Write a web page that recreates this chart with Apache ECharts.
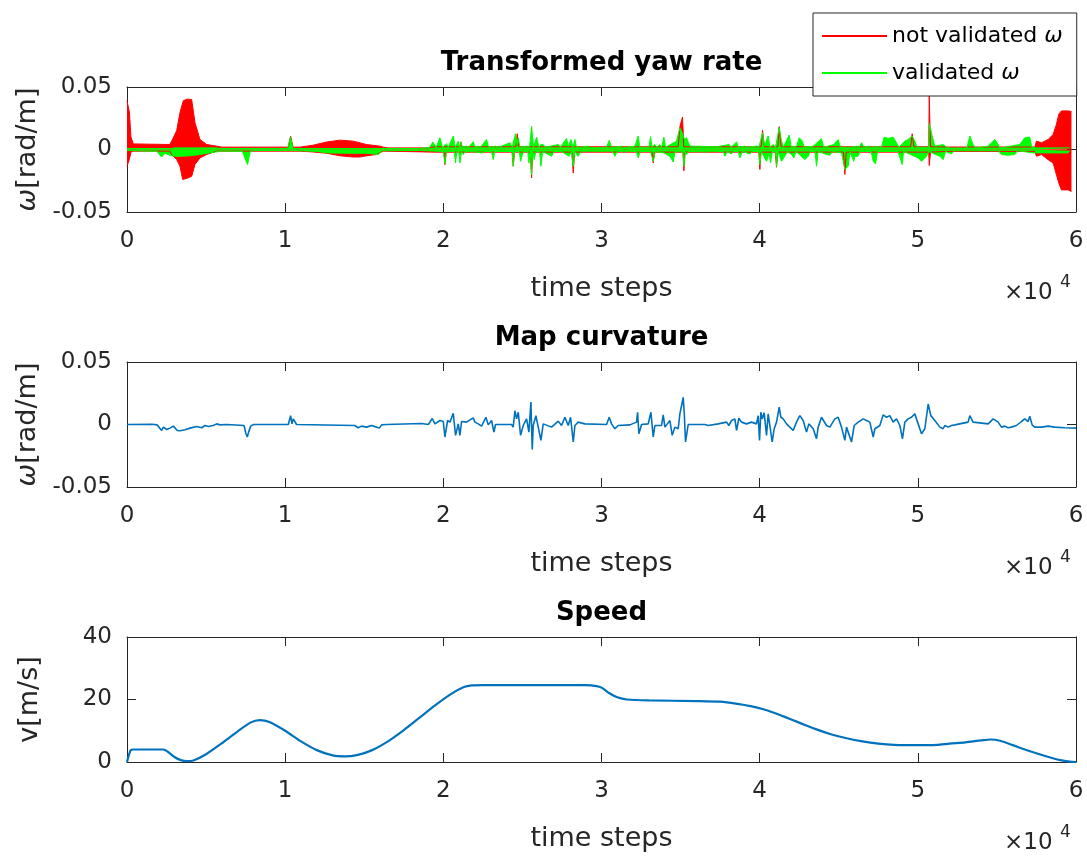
<!DOCTYPE html>
<html><head><meta charset="utf-8">
<script src="https://cdn.jsdelivr.net/npm/echarts@6/dist/echarts.min.js"></script>
<style>html,body{margin:0;padding:0;background:#fff}#c{width:1087px;height:857px}</style>
</head><body><div id="c"></div>
<script>
// ---------- DATA (time step, value) ----------
const xTickLabels = ['0','1','2','3','4','5','6'];
const titles = ['Transformed yaw rate', 'Map curvature', 'Speed'];
const legendNames = ['not validated ω', 'validated ω'];

// envelope of the "not validated" yaw rate (upper / lower)
const notValidatedUpper = [[0,0.039],[84,0.039],[150,0.03],[250,0.01],[400,0.0045],[2700,0.004],[2823,0.0067],[3139,0.015],[3350,0.0296],[3560,0.039],[3800,0.0403],[4087,0.04],[4298,0.0215],[4614,0.008],[5036,0.004],[5668,0.0027],[6000,0.0019],[10200,0.0019],[10343,0.0108],[10500,0.0019],[10930,0.0019],[11780,0.0035],[12620,0.006],[13460,0.0075],[14300,0.0067],[15150,0.004],[15990,0.0027],[16200,0.0019],[16500,0.0013],[19000,0.0013],[19500,0.0022],[21050,0.0022],[21112,0.0062],[21180,0.0022],[24590,0.0022],[24670,0.0126],[24750,0.0022],[34850,0.0022],[34955,0.0183],[35124,0.026],[35200,0.0022],[40100,0.0022],[40181,0.0153],[40300,0.0022],[41150,0.0022],[41235,0.0183],[41350,0.0022],[49550,0.0022],[49642,0.0126],[49750,0.0022],[50690,0.0022],[50720,0.043],[50760,0.043],[50800,0.0022],[52000,0.002],[57400,0.002],[57500,0.0067],[57816,0.0054],[58237,0.008],[58554,0.0121],[58764,0.0202],[58912,0.0282],[59080,0.0309],[59502,0.0309],[59713,0.0304]];
const notValidatedLower = [[0,-0.0134],[84,-0.0134],[150,-0.008],[250,-0.002],[400,-0.0013],[2700,-0.0013],[2823,-0.004],[3139,-0.008],[3350,-0.0134],[3518,-0.024],[3800,-0.023],[4087,-0.0215],[4298,-0.012],[4614,-0.0067],[5036,-0.004],[5668,-0.0013],[10930,-0.0013],[11780,-0.002],[12620,-0.003],[13460,-0.005],[14300,-0.006],[14720,-0.006],[15150,-0.005],[15780,-0.004],[16200,-0.0013],[19500,-0.0021],[20050,-0.0021],[20100,-0.0121],[20170,-0.0021],[24350,-0.0021],[24420,-0.0134],[24500,-0.0021],[25500,-0.0021],[25579,-0.0228],[25650,-0.0021],[28130,-0.0021],[28213,-0.0188],[28300,-0.0021],[33200,-0.0021],[33270,-0.0108],[33350,-0.0021],[35150,-0.0021],[35208,-0.017],[35280,-0.0021],[39950,-0.0021],[40013,-0.016],[40080,-0.0021],[40990,-0.0021],[41067,-0.0142],[41150,-0.0021],[45300,-0.0021],[45386,-0.02],[45470,-0.0021],[50690,-0.0021],[50720,-0.0129],[50760,-0.0129],[50800,-0.0021],[52000,-0.0015],[57400,-0.0015],[57500,-0.0054],[57816,-0.004],[58237,-0.0081],[58554,-0.0108],[58764,-0.0202],[58912,-0.0269],[59080,-0.0323],[59502,-0.0323],[59713,-0.0336]];

// envelope of the "validated" yaw rate (upper / lower)
const validatedUpper = [[0,0.0008],[2800,0.0008],[3000,0.0013],[5600,0.0013],[6000,0.0008],[10150,0.0008],[10343,0.0102],[10500,0.0008],[18500,0.0008],[19150,0.0018],[19330,0.006],[19550,0.0018],[19785,0.0094],[19950,0.0018],[20206,0.0046],[20311,0.0018],[20627,0.0108],[20750,0.0018],[20943,0.0067],[21010,0.0018],[21112,0.0059],[21200,0.0018],[21470,0.0027],[21600,0.0018],[21891,0.0062],[22000,0.0018],[22208,0.0027],[22350,0.0018],[22734,0.008],[22850,0.0025],[22945,0.004],[23050,0.0018],[23303,0.0027],[23500,0.0018],[24209,0.0054],[24350,0.0018],[24568,0.0126],[24650,0.004],[24736,0.0094],[24850,0.0018],[25263,0.0027],[25450,0.0018],[25579,0.0188],[25700,0.0018],[25895,0.0099],[26050,0.0018],[26169,0.004],[26316,0.004],[26450,0.0018],[27265,0.004],[27400,0.0018],[27791,0.0089],[27900,0.0025],[28065,0.0081],[28200,0.0018],[28318,0.0081],[28420,0.0018],[28529,0.0027],[28700,0.0018],[29161,0.0027],[29300,0.0015],[30300,0.0015],[30488,0.0073],[30650,0.0015],[31268,0.0027],[31400,0.0015],[32111,0.0027],[32322,0.0108],[32420,0.0018],[33000,0.0018],[33101,0.0102],[33200,0.0018],[33375,0.004],[33500,0.0018],[33691,0.004],[33800,0.0018],[33944,0.0099],[34050,0.0018],[34744,0.0067],[34955,0.0175],[35050,0.0148],[35124,0.0148],[35250,0.0081],[35377,0.0094],[35588,0.0027],[35700,0.0015],[37274,0.0022],[37400,0.0015],[38075,0.004],[38200,0.0018],[38539,0.006],[38650,0.0018],[39065,0.0027],[39200,0.0018],[39802,0.0027],[39950,0.0018],[40181,0.0134],[40300,0.003],[40540,0.0108],[40650,0.0018],[40856,0.004],[41000,0.0018],[41235,0.0175],[41383,0.0067],[41500,0.0018],[41867,0.0116],[42000,0.0018],[42331,0.0027],[42499,0.0094],[42710,0.0067],[42800,0.0018],[43384,0.0027],[43500,0.0018],[43911,0.0086],[44050,0.0018],[44691,0.004],[44965,0.008],[45100,0.0018],[45808,0.0018],[46124,0.0027],[46300,0.0018],[46438,0.0054],[46600,0.0018],[46860,0.0027],[47000,0.0018],[47492,0.0022],[47703,0.0018],[47871,0.0099],[48124,0.0089],[48440,0.0099],[48651,0.0054],[48800,0.0018],[49178,0.0067],[49389,0.0081],[49642,0.0108],[49810,0.0067],[49950,0.0018],[50680,0.0018],[50737,0.0207],[50906,0.0108],[51074,0.0027],[51200,0.0018],[51601,0.004],[51812,0.0019],[52000,0.0012],[53100,0.0012],[53287,0.0108],[53497,0.004],[53650,0.0012],[54445,0.0027],[54867,0.008],[55077,0.004],[55200,0.0012],[56447,0.004],[56763,0.0094],[57079,0.0099],[57200,0.002],[57500,0.0013],[59600,0.0013]];
const validatedLower = [[0,-0.0008],[1900,-0.0015],[2190,-0.006],[2400,-0.003],[2800,-0.005],[3200,-0.0055],[4000,-0.005],[4600,-0.004],[5600,-0.002],[6000,-0.0012],[7300,-0.0015],[7520,-0.009],[7627,-0.012],[7775,-0.002],[8000,-0.0008],[10250,-0.0008],[10343,-0.002],[10500,-0.0008],[12000,-0.0015],[12600,-0.0027],[14000,-0.003],[15150,-0.003],[15890,-0.004],[16100,-0.001],[18500,-0.0008],[20000,-0.0016],[20100,-0.0113],[20200,-0.0016],[20311,-0.003],[20450,-0.0016],[20700,-0.0016],[20774,-0.0108],[20850,-0.0016],[20980,-0.0016],[21048,-0.0108],[21150,-0.0016],[21259,-0.004],[21400,-0.0016],[21997,-0.0019],[22418,-0.0027],[22600,-0.0016],[23050,-0.0016],[23156,-0.0081],[23250,-0.0016],[24350,-0.0016],[24420,-0.0134],[24500,-0.0016],[24800,-0.0016],[24884,-0.0094],[25000,-0.004],[25100,-0.0016],[25340,-0.0016],[25410,-0.0108],[25500,-0.0016],[25579,-0.0202],[25650,-0.0016],[25747,-0.0081],[25850,-0.0016],[26090,-0.0016],[26169,-0.0134],[26280,-0.0016],[26843,-0.0054],[27000,-0.0016],[27475,-0.0016],[27939,-0.0054],[28100,-0.0016],[28213,-0.0134],[28318,-0.0016],[28529,-0.0054],[28700,-0.0014],[30700,-0.0014],[30847,-0.0054],[31000,-0.0014],[31479,-0.0019],[31700,-0.0014],[32200,-0.0016],[32322,-0.0067],[32450,-0.0016],[33101,-0.0016],[33270,-0.0095],[33400,-0.0016],[33944,-0.0027],[34323,-0.0054],[34534,-0.01],[34650,-0.0016],[35150,-0.002],[35208,-0.0134],[35300,-0.002],[35377,-0.004],[35500,-0.0016],[36747,-0.0019],[36900,-0.0014],[37700,-0.0016],[37801,-0.0054],[37950,-0.0016],[38222,-0.0035],[38350,-0.0016],[38650,-0.0016],[38749,-0.0067],[38900,-0.0016],[39381,-0.0035],[39550,-0.0016],[39950,-0.0016],[40013,-0.012],[40100,-0.0016],[40434,-0.0094],[40600,-0.003],[40687,-0.0108],[40800,-0.0016],[41000,-0.0016],[41067,-0.0135],[41150,-0.0016],[41383,-0.0094],[41593,-0.0054],[41750,-0.0016],[42015,-0.004],[42162,-0.0067],[42300,-0.0016],[42857,-0.0081],[43068,-0.0054],[43200,-0.0016],[43500,-0.0016],[43595,-0.0134],[43700,-0.0016],[44227,-0.004],[44438,-0.0046],[44600,-0.0016],[45176,-0.0027],[45386,-0.016],[45597,-0.0134],[45700,-0.002],[45955,-0.0094],[46017,-0.0054],[46228,-0.0054],[46350,-0.0016],[47050,-0.0016],[47176,-0.0094],[47323,-0.0115],[47450,-0.0016],[48750,-0.0016],[48862,-0.0027],[49009,-0.012],[49100,-0.0016],[50021,-0.0067],[50232,-0.0094],[50548,-0.0054],[50680,-0.0016],[51390,-0.0054],[51601,-0.0081],[51750,-0.0016],[52128,-0.0035],[52300,-0.001],[55100,-0.001],[55288,-0.004],[55709,-0.0046],[56131,-0.004],[56300,-0.001],[57290,-0.0027],[57400,-0.002],[59500,-0.0027],[59600,-0.001]];

// map curvature
const curvature = [[0,0],[1580,0.0002],[1900,-0.0003],[2190,-0.0048],[2300,-0.0021],[2510,-0.004],[2720,-0.0029],[2930,-0.0013],[3040,-0.0008],[3180,-0.0048],[3350,-0.005],[3670,-0.0042],[3980,-0.0029],[4400,-0.0016],[4720,-0.0026],[4930,-0.0008],[5140,-0.0016],[5450,-0.0008],[5670,0.0005],[5880,-0.0003],[6300,0],[7400,-0.0008],[7521,-0.0074],[7606,-0.01],[7690,-0.0061],[7820,-0.0013],[8000,0],[10200,0],[10343,0.0071],[10430,0.0005],[10510,0.0045],[10720,0],[14400,-0.0008],[14622,-0.0026],[14830,-0.0013],[15150,-0.0021],[15460,-0.0008],[15780,-0.0021],[15950,-0.0029],[16100,-0.0003],[16400,0],[18630,0.0008],[19050,0],[19300,0.0048],[19469,0.0005],[19785,0.0032],[19996,0.0024],[20100,-0.01],[20269,0.0032],[20416,0.0019],[20627,0.009],[20774,-0.0087],[20943,0.0005],[21048,-0.0087],[21154,0.0024],[21470,0.0019],[21891,0.0053],[21997,0.0019],[22208,0.0005],[22418,-0.0013],[22692,0.0058],[22840,-0.0003],[23050,0.0032],[23198,-0.006],[23303,0],[24315,0],[24420,-0.0021],[24526,0.011],[24631,0.0045],[24736,0.0098],[24884,-0.0087],[25052,-0.0008],[25263,0.0045],[25410,-0.0061],[25537,0.018],[25621,-0.02],[25684,-0.0008],[25853,0.007],[26000,-0.0021],[26169,-0.0127],[26316,0.0005],[26843,-0.0021],[27265,0.0027],[27475,-0.0008],[27686,0.0058],[27791,0.007],[27897,-0.0008],[28044,0.0058],[28213,-0.014],[28318,-0.0008],[28529,0.0019],[28950,0.0005],[30320,0],[30488,0.0058],[30636,0.0005],[30847,-0.0034],[31058,-0.0008],[31795,-0.0003],[32217,0.0019],[32280,0.0098],[32364,-0.0074],[32533,0],[32954,0.0005],[33123,0.0098],[33270,-0.01],[33375,-0.0008],[33796,-0.0008],[33902,0.0077],[34007,-0.0021],[34323,0.0032],[34471,-0.0087],[34639,-0.0021],[34850,-0.0034],[34955,0.0085],[35061,0.015],[35166,0.0217],[35229,0.0098],[35313,-0.014],[35482,0],[36536,0],[36747,-0.0008],[37379,0.0005],[37906,0.0019],[38053,-0.0008],[38222,0.0032],[38432,0.0045],[38538,-0.0048],[38685,0.005],[38854,0.0019],[39170,0.0005],[39486,0.0019],[39800,0.0005],[39907,0.007],[39990,-0.0127],[40076,0.0098],[40160,0.0045],[40286,0.0093],[40434,-0.0087],[40539,0.0085],[40644,-0.0008],[40792,-0.014],[40918,-0.0034],[41066,0.0019],[41235,0.0138],[41340,0.0058],[41488,0.0045],[41698,0.0005],[41909,-0.0021],[42120,-0.0048],[42330,0.0019],[42541,0.0071],[42752,0.0032],[42962,-0.0061],[43110,0.0005],[43384,-0.0034],[43595,-0.0114],[43700,-0.0021],[43911,0.0058],[44016,0.0071],[44227,-0.0008],[44438,-0.0021],[44754,0.0045],[44965,0.0058],[45175,-0.0021],[45386,-0.0127],[45491,-0.0021],[45597,-0.0061],[45808,-0.014],[45976,-0.0008],[46229,0.0019],[46545,0.0045],[46756,0.0032],[46966,0.0019],[47177,-0.01],[47282,-0.0034],[47598,-0.0008],[47808,0.0077],[48019,0.0058],[48230,0.0071],[48440,0.0019],[48651,0.0045],[48862,-0.0008],[49030,-0.0114],[49178,0.0019],[49389,0.0045],[49599,0.0058],[49810,0.0085],[50021,0.0005],[50232,-0.0074],[50443,-0.0034],[50654,0.0164],[50822,0.0071],[51075,0.0032],[51391,-0.0021],[51602,-0.0034],[51707,-0.0008],[51918,-0.0021],[52128,-0.0008],[52339,-0.0003],[53182,0.0019],[53287,0.0071],[53498,0.0019],[54446,0.0005],[54762,0.0045],[54867,0.0058],[55078,0.0019],[55288,-0.0021],[55500,-0.0013],[55700,-0.0026],[55920,-0.0021],[56236,-0.0008],[56552,0.0024],[56763,0.0045],[56868,0.0058],[56973,0.0024],[57079,0.0066],[57226,-0.0003],[57395,-0.0021],[57816,-0.0021],[58237,-0.0013],[58658,-0.0021],[59290,-0.0026],[60000,-0.0029]];

// speed
const speed = [[0,0],[250,3.9],[400,4.0],[2300,4.0],[2600,3.2],[3000,1.6],[3400,0.6],[3800,0.3],[4200,0.5],[5000,2.5],[6000,6.0],[7000,9.8],[7800,12.6],[8400,13.4],[9000,12.8],[10000,10.0],[11000,6.6],[12000,3.8],[13000,2.1],[13800,1.8],[14600,2.3],[15500,3.8],[16500,6.6],[17500,10.2],[18500,14.2],[19500,18.2],[20500,21.8],[21300,24.0],[21800,24.5],[22500,24.6],[29000,24.6],[29700,24.3],[30000,23.8],[30500,22.0],[31000,20.7],[31600,20.0],[33000,19.7],[36000,19.5],[37500,19.3],[38500,18.7],[39500,17.8],[40500,16.5],[41500,14.6],[42500,12.6],[43500,10.6],[44500,8.9],[45500,7.6],[46500,6.6],[47500,5.9],[48500,5.5],[50000,5.4],[51200,5.5],[52000,5.9],[53000,6.3],[54000,6.9],[54600,7.2],[55200,6.8],[56000,5.4],[57000,3.6],[58000,2.0],[59000,0.6],[59600,0.1],[60000,0]];

// ---------- CHART ----------
const FONT = 'DejaVu Sans';
const AX = '#262626';
const L = 127, W = 949, H = 125;
const tops = [87, 362, 637];
const yRanges = [[-0.05, 0.05, 0.05], [-0.05, 0.05, 0.05], [0, 40, 20]];
const yNames = ['{w|ω}[rad/m]', '{w|ω}[rad/m]', 'v[m/s]'];

const chart = echarts.init(document.getElementById('c'), null, {renderer: 'canvas'});

const xAxes = [], yAxes = [], grids = [], titleOpts = [], graphics = [];
for (let i = 0; i < 3; i++) {
  grids.push({left: L, top: tops[i], width: W, height: H});
  titleOpts.push({text: titles[i], left: L + W / 2, top: tops[i] - 37, textAlign: 'center', padding: 0,
    textStyle: {fontFamily: FONT, fontSize: 26, fontWeight: 'bold', color: '#000'}});
  const lineStyle = {color: AX, width: 1};
  xAxes.push({type: 'value', gridIndex: i, min: 0, max: 60000, interval: 10000,
    axisLine: {show: true, onZero: false, lineStyle},
    axisTick: {inside: true, length: 9, lineStyle},
    axisLabel: {formatter: v => xTickLabels[Math.round(v / 10000)], color: AX, fontSize: 23, margin: 18, fontFamily: FONT},
    splitLine: {show: false},
    name: 'time steps', nameLocation: 'middle', nameGap: 63,
    nameTextStyle: {fontSize: 27, color: AX, fontFamily: FONT}});
  const r = yRanges[i];
  yAxes.push({type: 'value', gridIndex: i, min: r[0], max: r[1], interval: r[2],
    axisLine: {show: true, onZero: false, lineStyle},
    axisTick: {inside: true, length: 9, lineStyle},
    axisLabel: {color: AX, fontSize: 23, margin: 15, fontFamily: FONT},
    splitLine: {show: false},
    name: yNames[i], nameLocation: 'middle', nameGap: 84,
    nameTextStyle: {fontSize: 27, color: AX, fontFamily: FONT,
      rich: {w: {fontSize: 27, color: AX, fontFamily: FONT, fontStyle: 'italic'}}}});
  const b = tops[i] + H;
  graphics.push({type: 'text', left: 1004, top: b + 70, style: {text: '×10', font: '23px "DejaVu Sans"', fill: AX}});
  graphics.push({type: 'text', left: 1060, top: b + 62, style: {text: '4', font: '17px "DejaVu Sans"', fill: AX}});
}
for (let i = 0; i < 3; i++) {
  const lineStyle = {color: AX, width: 1};
  xAxes.push({type: 'value', gridIndex: i, position: 'top', min: 0, max: 60000, interval: 10000,
    axisLine: {show: true, onZero: false, lineStyle}, axisTick: {inside: true, length: 9, lineStyle},
    axisLabel: {show: false}, splitLine: {show: false}});
  const r = yRanges[i];
  yAxes.push({type: 'value', gridIndex: i, position: 'right', min: r[0], max: r[1], interval: r[2],
    axisLine: {show: true, onZero: false, lineStyle}, axisTick: {inside: true, length: 9, lineStyle},
    axisLabel: {show: false}, splitLine: {show: false}});
}

function band(name, data, color) {
  return {type: 'line', name, data, xAxisIndex: 0, yAxisIndex: 0, symbol: 'none', showSymbol: false,
    lineStyle: {color, width: 1}, itemStyle: {color}, areaStyle: {color, opacity: 1},
    animation: false, silent: true};
}

const option = {
  animation: false,
  textStyle: {fontFamily: FONT},
  title: titleOpts,
  grid: grids,
  xAxis: xAxes,
  yAxis: yAxes,
  legend: {
    data: legendNames, left: 813, top: 13, orient: 'vertical',
    padding: [12, 14, 12, 9], itemGap: 15, itemWidth: 65, itemHeight: 2, icon: 'rect',
    borderColor: AX, borderWidth: 1, backgroundColor: '#fff', borderRadius: 0,
    formatter: n => n.replace('ω', '{w|ω}'),
    textStyle: {fontFamily: FONT, fontSize: 22, color: '#000',
      rich: {w: {fontFamily: FONT, fontSize: 22, color: '#000', fontStyle: 'italic'}}},
    selectedMode: false
  },
  graphic: graphics,
  series: [
    band(legendNames[0], notValidatedUpper, '#FF0000'),
    band(legendNames[0], notValidatedLower, '#FF0000'),
    band(legendNames[1], validatedUpper, '#00FF00'),
    band(legendNames[1], validatedLower, '#00FF00'),
    {type: 'line', name: 'curvature', data: curvature, xAxisIndex: 1, yAxisIndex: 1, symbol: 'none',
      lineStyle: {color: '#0072BD', width: 1.6}, itemStyle: {color: '#0072BD'}, animation: false},
    {type: 'line', name: 'speed', data: speed, xAxisIndex: 2, yAxisIndex: 2, symbol: 'none', smooth: 0.25,
      lineStyle: {color: '#0072BD', width: 2.2}, itemStyle: {color: '#0072BD'}, animation: false}
  ]
};
chart.setOption(option);
</script>
</body></html>
